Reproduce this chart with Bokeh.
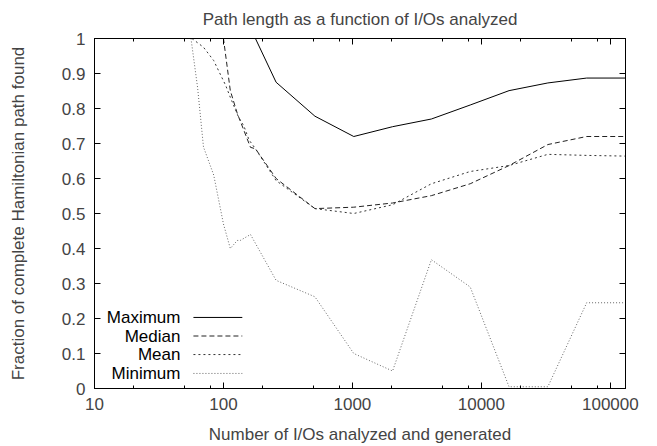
from bokeh.plotting import figure
from bokeh.models import (FixedTicker, LogAxis, LinearAxis, CustomJSTickFormatter,
                          Label, Range1d)
from bokeh.embed import file_html
from bokeh.resources import INLINE

# ---- data ----
max_x = [56, 177, 256, 512, 1024, 2048, 4096, 8192, 16384, 32768, 65536, 131072]
max_y = [1.0, 1.0, 0.875, 0.778, 0.72, 0.748, 0.77, 0.81, 0.851, 0.873, 0.887, 0.887]

median_x = [56, 100, 113, 128, 162, 177, 256, 512, 1024, 2048, 4096, 8192, 16384, 32768, 65536, 131072]
median_y = [1.0, 1.0, 0.851, 0.786, 0.689, 0.685, 0.60, 0.514, 0.518, 0.53, 0.551, 0.585, 0.637, 0.697, 0.72, 0.72]

mean_x = [57, 70, 84, 104, 113, 131, 144, 158, 177, 256, 512, 1024, 2048, 4096, 8192, 16384, 32768, 65536, 131072]
mean_y = [1.0, 0.975, 0.937, 0.866, 0.832, 0.775, 0.75, 0.71, 0.685, 0.594, 0.514, 0.50, 0.525, 0.585, 0.62, 0.637, 0.669, 0.666, 0.664]

min_x = [56, 63, 70, 84, 100, 113, 128, 135, 162, 256, 512, 1024, 2048, 4096, 8192, 16384, 32768, 65536, 131072]
min_y = [1.0, 0.86, 0.69, 0.61, 0.47, 0.40, 0.423, 0.423, 0.44, 0.309, 0.262, 0.10, 0.05, 0.368, 0.29, 0.005, 0.005, 0.245, 0.245]

x_major_ticks = [10, 100, 1000, 10000, 100000]
x_minor_ticks = [20, 50, 80, 200, 500, 800, 2000, 5000, 8000, 20000, 50000, 80000]
y_ticks = [0, 0.1, 0.2, 0.3, 0.4, 0.5, 0.6, 0.7, 0.8, 0.9, 1.0]

series_names = ["Maximum", "Median", "Mean", "Minimum"]
series_colors = ["#000000", "#222222", "#333333", "#666666"]
series_dash = ["solid", "5 3", "2 3", "1 2"]

FONT = "Liberation Sans"
FS = "17px"

p = figure(width=657, height=446, x_axis_type="log",
           x_range=Range1d(10, 131072), y_range=Range1d(0, 1),
           output_backend="svg", toolbar_location=None,
           min_border_left=94, min_border_right=32, min_border_top=38, min_border_bottom=58,
           title="Path length as a function of I/Os analyzed")
p.title.align = "center"
p.title.vertical_align = "top"
p.title.text_font = FONT
p.title.text_font_size = FS
p.title.text_font_style = "normal"
p.title.standoff = 16
p.grid.visible = False
p.outline_line_color = "black"
p.outline_line_width = 1
p.background_fill_color = "white"
p.border_fill_color = "white"

xt = FixedTicker(ticks=x_major_ticks, minor_ticks=x_minor_ticks)
yt = FixedTicker(ticks=y_ticks)
xfmt = CustomJSTickFormatter(code="return tick.toFixed(0);")
yfmt = CustomJSTickFormatter(code="return (Math.round(tick*10)/10).toString();")

def style(ax, labels=True):
    ax.major_tick_in = 6
    ax.major_tick_out = 0
    ax.minor_tick_in = 3
    ax.minor_tick_out = 0
    ax.axis_line_color = "black"
    ax.major_tick_line_color = "black"
    ax.minor_tick_line_color = "black"
    if labels:
        ax.major_label_text_font = FONT
        ax.major_label_text_font_size = FS
        ax.axis_label_text_font = FONT
        ax.axis_label_text_font_size = FS
        ax.axis_label_text_font_style = "normal"
    else:
        ax.major_label_text_font_size = "0px"
        ax.major_label_standoff = 0

xa = p.xaxis[0]
xa.ticker = xt
xa.formatter = xfmt
xa.axis_label = "Number of I/Os analyzed and generated"
xa.major_label_standoff = 9
xa.axis_label_standoff = 12
style(xa)

ya = p.yaxis[0]
ya.ticker = yt
ya.formatter = yfmt
ya.axis_label = "Fraction of complete Hamiltonian path found"
ya.major_label_standoff = 9
ya.axis_label_standoff = 31
style(ya)
ya.minor_tick_in = 0

top = LogAxis(ticker=xt, formatter=CustomJSTickFormatter(code="return '';"))
style(top, labels=False)
p.add_layout(top, "above")
right = LinearAxis(ticker=yt, formatter=CustomJSTickFormatter(code="return '';"))
style(right, labels=False)
right.minor_tick_in = 0
p.add_layout(right, "right")

xs = [max_x, median_x, mean_x, min_x]
ys = [max_y, median_y, mean_y, min_y]
for x, y, c, d in zip(xs, ys, series_colors, series_dash):
    p.line(x, y, line_color=c, line_dash=d, line_width=1.0)

# legend (text right-aligned, sample line to the right), inside lower-left
leg_text_x = 46.4
leg_line_x = [58.5, 140]
leg_rows = [0.203, 0.150, 0.097, 0.043]
for name, c, d, yy in zip(series_names, series_colors, series_dash, leg_rows):
    p.add_layout(Label(x=leg_text_x, y=yy, text=name, text_align="right",
                       text_baseline="middle", text_font=FONT, text_font_size=FS,
                       text_color="black"))
    p.line(leg_line_x, [yy, yy], line_color=c, line_dash=d, line_width=1.0)

open("out.html", "w").write(file_html(p, INLINE))
